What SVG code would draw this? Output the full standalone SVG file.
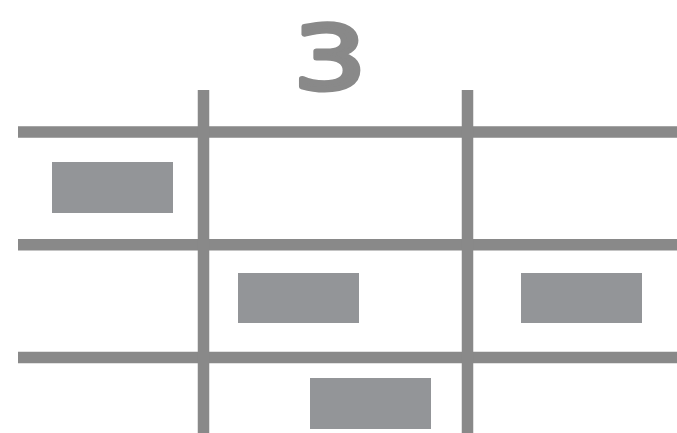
<svg xmlns="http://www.w3.org/2000/svg" width="677" height="433" viewBox="0 0 677 433">
  <style>
    .grid { stroke: #898989; stroke-width: 11.5; fill: none; }
    .cell { fill: #939598; }
    .num { font-family: "DejaVu Sans", "Liberation Sans", sans-serif; font-size: 88px; fill: #898989; stroke: #898989; stroke-width: 5; stroke-linejoin: round; }
  </style>
  <rect width="677" height="433" fill="#ffffff"/>
  <g id="connectors">
    <line class="grid" x1="18" y1="132" x2="677" y2="132"/>
    <line class="grid" x1="18" y1="244.7" x2="677" y2="244.7"/>
    <line class="grid" x1="18" y1="357.5" x2="677" y2="357.5"/>
    <line class="grid" x1="203.5" y1="90" x2="203.5" y2="433"/>
    <line class="grid" x1="467.5" y1="90" x2="467.5" y2="433"/>
  </g>
  <g id="title">
    <text class="num" transform="translate(330 89) scale(1.3 1)" text-anchor="middle">3</text>
  </g>
  <g id="box-1"><rect class="cell" x="52" y="162" width="121" height="51"/></g>
  <g id="box-2"><rect class="cell" x="238" y="273" width="121" height="50"/></g>
  <g id="box-3"><rect class="cell" x="521" y="273" width="121" height="50"/></g>
  <g id="box-4"><rect class="cell" x="310" y="378" width="121" height="51"/></g>
</svg>
